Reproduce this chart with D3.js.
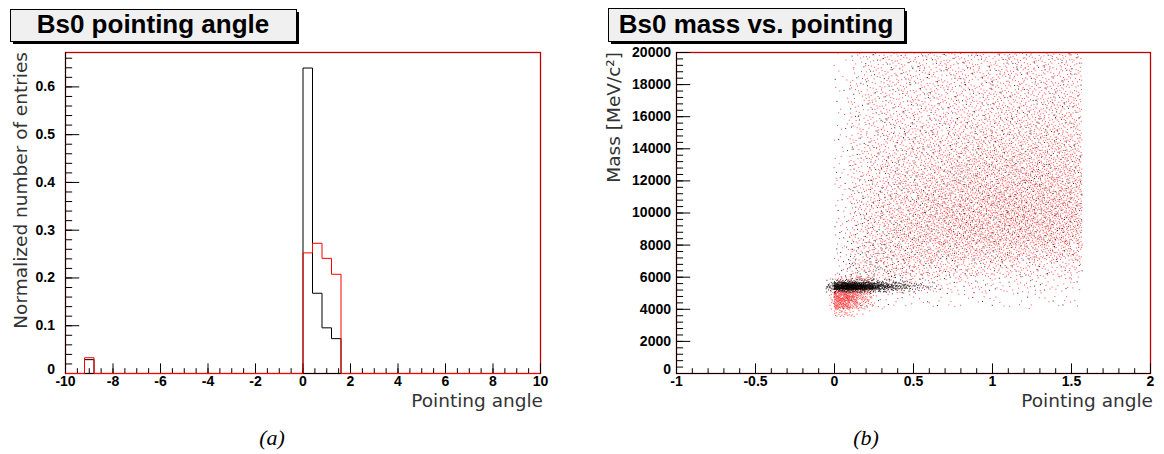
<!DOCTYPE html>
<html><head><meta charset="utf-8">
<script src="https://cdn.jsdelivr.net/npm/d3@7"></script>
<style>body{margin:0;background:#fff}svg{display:block}</style>
</head><body><svg id="c" width="1164" height="454"></svg>
<script>
// ---------- Panel (a): normalized histogram of pointing angle ----------
const histDomain = [-10, 10];
const histBinWidth = 0.4;
const histBinLow = [-9.2, 0, 0.4, 0.8, 1.2];
const histBlack = [0.029, 0.6395, 0.168, 0.0956, 0.073];
const histRed = [0.033, 0.2525, 0.2726, 0.241, 0.2077];
const histYMax = 0.672;
const histXTicks = [-10, -8, -6, -4, -2, 0, 2, 4, 6, 8, 10];
const histYTicks = [0, 0.1, 0.2, 0.3, 0.4, 0.5, 0.6];

// ---------- Panel (b): mass vs pointing angle (2D bin contents) ----------
const scatAngleEdges = [0,0.1,0.2,0.3,0.4,0.5,0.6,0.7,0.8,0.9,1.0,1.1,1.2,1.3,1.4,1.5,1.57];
const scatMassEdges = [20000,19000,18000,17000,16000,15000,14000,13000,12000,11000,10000,9000,8000,7000,6000,5000,4000];
const scatRed = [
 [3,10,14,16,17,18,18,18,19,19,20,20,20,20,20,13],
 [3,10,15,17,18,18,19,19,20,20,21,21,21,21,21,14],
 [3,11,15,17,18,19,20,20,21,21,22,22,23,23,23,15],
 [4,11,16,18,19,20,21,22,22,23,24,24,25,25,25,16],
 [4,12,17,19,20,22,23,24,25,26,27,28,28,28,28,18],
 [4,13,18,20,22,24,26,27,28,30,31,32,32,32,32,20],
 [5,14,19,22,24,27,29,31,33,35,36,37,37,37,36,23],
 [5,15,21,25,28,31,34,36,39,41,42,43,43,42,41,26],
 [6,16,23,27,31,35,38,41,44,46,48,49,49,48,46,29],
 [6,17,25,30,34,38,42,45,48,50,52,53,52,51,49,31],
 [7,18,27,32,36,40,44,47,50,52,53,54,53,52,50,32],
 [7,19,28,33,37,40,43,46,48,49,50,50,49,48,46,29],
 [8,20,28,32,34,36,37,38,38,38,38,37,36,35,33,21],
 [8,20,26,28,28,27,26,25,24,23,22,21,20,19,18,11],
 [0,10,18,18,17,15,13,12,11,10,10,9,9,8,8,5],
 [0,0,8,6,5,4,4,4,4,4,4,4,4,4,4,2]
];
const scatBlack = [
 [1,2,3,3,3,3,3,3,3,3,3,3,3,3,3,2],
 [1,2,3,3,3,3,3,3,3,3,3,3,3,3,3,2],
 [1,2,3,3,3,3,3,3,3,3,3,3,3,3,3,2],
 [1,3,3,3,3,3,3,3,4,4,4,4,4,4,4,2],
 [1,3,3,4,4,4,4,4,4,4,4,4,4,4,4,3],
 [1,3,4,4,4,4,4,5,5,5,5,5,5,5,5,3],
 [1,3,4,4,5,5,5,5,5,6,6,6,6,6,6,4],
 [2,4,4,5,5,5,6,6,6,6,7,7,7,7,6,4],
 [2,4,5,5,6,6,6,7,7,7,7,7,7,7,7,4],
 [2,4,5,6,6,7,7,7,8,8,8,8,8,8,7,5],
 [2,5,6,6,7,7,7,8,8,8,8,8,8,8,7,5],
 [3,6,7,7,7,7,7,7,7,7,7,7,7,7,7,4],
 [4,8,9,8,7,6,6,6,6,6,6,6,5,5,5,3],
 [6,12,12,10,8,6,5,4,4,4,4,3,3,3,3,2],
 [4,12,12,10,8,5,3,2,2,2,2,2,2,2,2,1],
 [2,4,3,2,1,1,1,1,1,1,1,1,1,1,1,0]
];
const clusterRedAngleEdges = [-0.03,0,0.05,0.1,0.15,0.2,0.25];
const clusterRedMassEdges = [6000,5500,5000,4500,4000,3500];
const clusterRed = [
 [1,9,12,12,10,8],
 [4,40,45,38,26,16],
 [5,60,62,45,24,12],
 [4,50,50,30,15,7],
 [1,14,12,6,3,1]
];
const peakBlackAngleEdges = [-0.05,0,0.05,0.1,0.15,0.2,0.25,0.3,0.35,0.4,0.45,0.5,0.55,0.6,0.65];
const peakBlackMassEdges = [5850,5650,5500,5350,5200,5000];
const peakBlack = [
 [2,6,8,8,6,5,4,3,2,2,1,1,0,0],
 [5,22,32,32,27,20,13,9,6,4,3,2,1,1],
 [8,45,55,55,50,40,28,20,13,9,6,4,3,2],
 [7,40,50,50,45,34,22,15,10,7,5,3,2,1],
 [3,12,15,14,10,8,6,4,3,2,1,1,0,0]
];
const scatXTicks = [-1,-0.5,0,0.5,1,1.5,2];
const scatYTicks = [0,2000,4000,6000,8000,10000,12000,14000,16000,18000,20000];

const svg = d3.select("#c");
const frameColor = "#c00000";
const titleFont = "18.5px 'DejaVu Sans', sans-serif";

function range(a, b, s){ const out=[]; for(let v=a; v<=b+1e-9; v+=s) out.push(+v.toFixed(6)); return out; }

function titleBox(x, y, w, h, text, cx){
  svg.append("rect").attr("x", x+3).attr("y", y+3).attr("width", w).attr("height", h).attr("fill", "#000");
  svg.append("rect").attr("x", x+0.5).attr("y", y+0.5).attr("width", w).attr("height", h)
     .attr("fill", "#f0f0f0").attr("stroke", "#000").attr("stroke-width", 1);
  svg.append("text").attr("x", cx).attr("y", y + h - 8).attr("text-anchor", "middle")
     .attr("font-family", "'Liberation Sans', Arial, sans-serif").attr("font-weight", "bold").attr("font-size", 26)
     .attr("fill", "#000").text(text);
}

function styleAxis(g){
  g.attr("font-family", "'Liberation Sans', Arial, sans-serif").attr("font-size", 14).attr("font-weight", "bold");
  g.selectAll("path.domain").attr("stroke", "#000").attr("stroke-width", 1);
  g.selectAll(".tick line").attr("stroke", "#000").attr("stroke-width", 1);
  g.selectAll("text").attr("fill", "#000").attr("font-weight", "bold");
}

function drawAxes(x, y, fx0, fy0, fx1, fy1, xMajor, xMinor, yMajor, yMinor, yPad, fmtX, fmtY){
  const fw = fx1 - fx0, fh = fy1 - fy0;
  const ty = 0.03 * fw, tx = 0.03 * fh;
  svg.append("rect").attr("x", fx0 + 0.5).attr("y", fy0 + 0.5).attr("width", fw).attr("height", fh)
     .attr("fill", "none").attr("stroke", frameColor).attr("stroke-width", 1.3);
  svg.append("g").attr("transform", `translate(0,${fy1})`)
     .call(d3.axisBottom(x).tickValues(xMinor).tickSizeInner(-tx/2).tickSizeOuter(0).tickFormat(""))
     .call(styleAxis);
  svg.append("g").attr("transform", `translate(${fx0},0)`)
     .call(d3.axisLeft(y).tickValues(yMinor).tickSizeInner(-ty/2).tickSizeOuter(0).tickFormat(""))
     .call(styleAxis);
  const gx = svg.append("g").attr("transform", `translate(0,${fy1})`)
     .call(d3.axisBottom(x).tickValues(xMajor).tickSizeInner(-tx).tickSizeOuter(0).tickPadding(3).tickFormat(fmtX))
     .call(styleAxis);
  const gy = svg.append("g").attr("transform", `translate(${fx0},0)`)
     .call(d3.axisLeft(y).tickValues(yMajor).tickSizeInner(-ty).tickSizeOuter(0).tickPadding(yPad).tickFormat(fmtY))
     .call(styleAxis);
  gy.selectAll(".tick").filter(d => d === 0).select("text").attr("dy", "0.05em");
  return [gx, gy];
}

// ================= Panel (a) =================
{
  const fx0 = 65, fx1 = 540, fy0 = 52, fy1 = 373;
  const x = d3.scaleLinear().domain(histDomain).range([fx0, fx1]);
  const y = d3.scaleLinear().domain([0, histYMax]).range([fy1, fy0]);
  drawAxes(x, y, fx0, fy0, fx1, fy1, histXTicks, range(-10, 10, 0.5), histYTicks, range(0, 0.66, 0.02), 10,
           d => String(d), d => String(d));

  const nBins = Math.round((histDomain[1] - histDomain[0]) / histBinWidth);
  function fullBins(vals){
    const arr = new Array(nBins).fill(0);
    histBinLow.forEach((lo, i) => { arr[Math.round((lo - histDomain[0]) / histBinWidth)] = vals[i]; });
    return arr;
  }
  function outline(vals){
    const pts = [[histDomain[0], 0]];
    fullBins(vals).forEach((v, i) => {
      const lo = histDomain[0] + i * histBinWidth, hi = lo + histBinWidth;
      pts.push([lo, v], [hi, v]);
    });
    pts.push([histDomain[1], 0]);
    return d3.line().x(d => x(d[0]) + 0.5).y(d => y(d[1]) + 0.5)(pts);
  }
  svg.append("path").attr("d", outline(histBlack)).attr("fill", "none").attr("stroke", "#000").attr("stroke-width", 1);
  svg.append("path").attr("d", outline(histRed)).attr("fill", "none").attr("stroke", "#ff0000").attr("stroke-width", 1);

  svg.append("text").attr("x", 543).attr("y", 407).attr("text-anchor", "end")
     .style("font", titleFont).attr("fill", "#333").text("Pointing angle");
  svg.append("text").attr("transform", "translate(27,52) rotate(-90)").attr("text-anchor", "end")
     .style("font", titleFont).attr("fill", "#333").text("Normalized number of entries");
  titleBox(10, 9, 286, 32, "Bs0 pointing angle", 153);
}

// ================= Panel (b) =================
{
  const fx0 = 676, fx1 = 1150, fy0 = 52, fy1 = 373;
  const x = d3.scaleLinear().domain([-1, 2]).range([fx0, fx1]);
  const y = d3.scaleLinear().domain([0, 20000]).range([fy1, fy0]);

  // deterministic low-discrepancy placement of a bin's entries inside the bin (like ROOT "SCAT"),
  // with a per-bin shift so neighbouring bins do not repeat the same pattern
  function halton(i, b){ let f = 1, r = 0; while(i > 0){ f /= b; r += f * (i % b); i = Math.floor(i / b); } return r; }
  const frac = t => t - Math.floor(t);
  function cellsToDots(counts, aEdges, mEdges, seed){
    const dots = [];
    counts.forEach((row, r) => row.forEach((n, c) => {
      const a0 = aEdges[c], a1 = aEdges[c + 1], mHi = mEdges[r], mLo = mEdges[r + 1];
      const cell = r * 64 + c + seed;
      const su = frac(cell * 0.6180339887), sv = frac(cell * 0.7548776662);
      for(let k = 1; k <= n; k++){
        const u = frac(halton(k, 2) + su), v = frac(halton(k, 3) + sv);
        dots.push([a0 + u * (a1 - a0), mLo + v * (mHi - mLo)]);
      }
    }));
    return dots;
  }
  svg.append("defs").append("clipPath").attr("id", "clipB")
     .append("rect").attr("x", fx0 + 1).attr("y", fy0 + 1).attr("width", fx1 - fx0 - 1).attr("height", fy1 - fy0 - 1);
  const plot = svg.append("g").attr("clip-path", "url(#clipB)");
  const redDots = cellsToDots(scatRed, scatAngleEdges, scatMassEdges, 17)
       .concat(cellsToDots(clusterRed, clusterRedAngleEdges, clusterRedMassEdges, 3001));
  const blackDots = cellsToDots(scatBlack, scatAngleEdges, scatMassEdges, 5003)
       .concat(cellsToDots(peakBlack, peakBlackAngleEdges, peakBlackMassEdges, 8007));
  plot.append("g").attr("fill", "#ff0000").attr("fill-opacity", 0.7)
     .selectAll("rect").data(redDots).join("rect")
     .attr("x", d => x(d[0]) - 0.5).attr("y", d => y(d[1]) - 0.5).attr("width", 1).attr("height", 1);
  plot.append("g").attr("fill", "#000").attr("fill-opacity", 0.85)
     .selectAll("rect").data(blackDots).join("rect")
     .attr("x", d => x(d[0]) - 0.5).attr("y", d => y(d[1]) - 0.5).attr("width", 1).attr("height", 1);

  drawAxes(x, y, fx0, fy0, fx1, fy1, scatXTicks, range(-1, 2, 0.1), scatYTicks, range(0, 20000, 400), 5,
           d => String(d), d => String(d));

  svg.append("text").attr("x", 1153).attr("y", 407).attr("text-anchor", "end")
     .style("font", titleFont).attr("fill", "#333").text("Pointing angle");
  svg.append("text").attr("transform", "translate(620,52) rotate(-90)").attr("text-anchor", "end")
     .style("font", titleFont).attr("fill", "#333").text("Mass [MeV/c²]");
  titleBox(608, 8, 296, 33, "Bs0 mass vs. pointing", 756);
}

// captions
svg.append("text").attr("x", 272).attr("y", 445).attr("text-anchor", "middle")
   .style("font", "italic 22px 'Liberation Serif', serif").attr("fill", "#000").text("(a)");
svg.append("text").attr("x", 866).attr("y", 445).attr("text-anchor", "middle")
   .style("font", "italic 22px 'Liberation Serif', serif").attr("fill", "#000").text("(b)");
</script></body></html>
